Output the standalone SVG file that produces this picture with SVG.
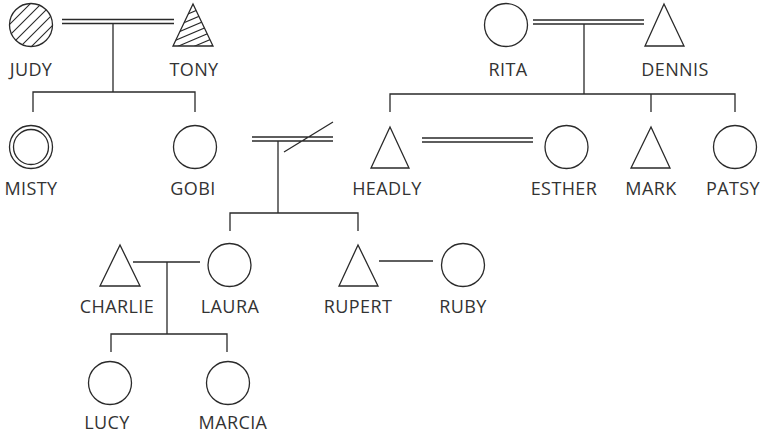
<svg xmlns="http://www.w3.org/2000/svg" width="767" height="438" viewBox="0 0 767 438">
<style>
.s{fill:none;stroke:#2a2a2a;stroke-width:1.3}
.h{fill:none;stroke:#2a2a2a;stroke-width:1.1}
.t{font-family:"Open Sans","Noto Sans",sans-serif;font-size:18px;fill:#333;text-anchor:middle;letter-spacing:0.4px}
</style>
<defs>
<clipPath id="cJudy"><circle cx="31" cy="25" r="21.5"/></clipPath>
<clipPath id="cTony"><polygon points="193,4 173,46 213,46"/></clipPath>
</defs>
<rect width="767" height="438" fill="#fff"/>
<g id="connectors">
<path class="s" d="M62 19.5H174M62 23.5H174M113 23.5V92M33 112V92H195V112"/>
<path class="s" d="M533 20H644M533 24H644M584 24V94M390 112V94H735V112M651 94V112"/>
<path class="s" d="M422 138H533M422 142H533"/>
<path class="s" d="M252 137H333M252 141H333M284 152L333 122M278 141V213M230 231V213H358V231"/>
<path class="s" d="M133 262H200M167 262V334M111 352V334H227V352"/>
<path class="s" d="M379 261H433"/>
</g>
<g id="judy">
<circle class="s" cx="31" cy="25" r="21.5"/>
<g clip-path="url(#cJudy)" class="h">
<path d="M0 23L33 -10M0 34L44 -10M0 45L55 -10M0 56L66 -10M0 67L77 -10M0 78L88 -10M0 89L99 -10"/>
</g>
<text class="t" x="31" y="76">JUDY</text>
</g>
<g id="tony">
<polygon class="s" points="193,4 173,46 213,46"/>
<g clip-path="url(#cTony)" class="h">
<path d="M160 19L230 -11M160 26L230 -4M160 33L230 3M160 40L230 10M160 47L230 17M160 54L230 24M160 61L230 31M160 68L230 38"/>
</g>
<text class="t" x="194" y="76">TONY</text>
</g>
<g id="rita">
<circle class="s" cx="506" cy="25" r="21.5"/>
<text class="t" x="508" y="76">RITA</text>
</g>
<g id="dennis">
<polygon class="s" points="664,4 645,46 684,46"/>
<text class="t" x="675" y="76">DENNIS</text>
</g>
<g id="misty">
<circle class="s" cx="31" cy="147" r="21.5"/>
<circle class="s" cx="31" cy="147" r="17.5"/>
<text class="t" x="31" y="195">MISTY</text>
</g>
<g id="gobi">
<circle class="s" cx="195" cy="147" r="21.5"/>
<text class="t" x="193" y="195">GOBI</text>
</g>
<g id="headly">
<polygon class="s" points="390,127 371,168 409,168"/>
<text class="t" x="387" y="195">HEADLY</text>
</g>
<g id="esther">
<circle class="s" cx="566.5" cy="147" r="21.5"/>
<text class="t" x="564" y="195">ESTHER</text>
</g>
<g id="mark">
<polygon class="s" points="651,127 631,168 670,168"/>
<text class="t" x="651" y="195">MARK</text>
</g>
<g id="patsy">
<circle class="s" cx="735" cy="147" r="21.5"/>
<text class="t" x="733" y="195">PATSY</text>
</g>
<g id="charlie">
<polygon class="s" points="120,245 100,286 140,286"/>
<text class="t" x="117" y="313">CHARLIE</text>
</g>
<g id="laura">
<circle class="s" cx="229.5" cy="265" r="21.5"/>
<text class="t" x="230" y="313">LAURA</text>
</g>
<g id="rupert">
<polygon class="s" points="358,245 339,286 378,286"/>
<text class="t" x="358" y="313">RUPERT</text>
</g>
<g id="ruby">
<circle class="s" cx="463" cy="265" r="21.5"/>
<text class="t" x="463" y="313">RUBY</text>
</g>
<g id="lucy">
<circle class="s" cx="110" cy="383" r="21.5"/>
<text class="t" x="107" y="429">LUCY</text>
</g>
<g id="marcia">
<circle class="s" cx="228" cy="383" r="21.5"/>
<text class="t" x="233" y="429">MARCIA</text>
</g>
</svg>
